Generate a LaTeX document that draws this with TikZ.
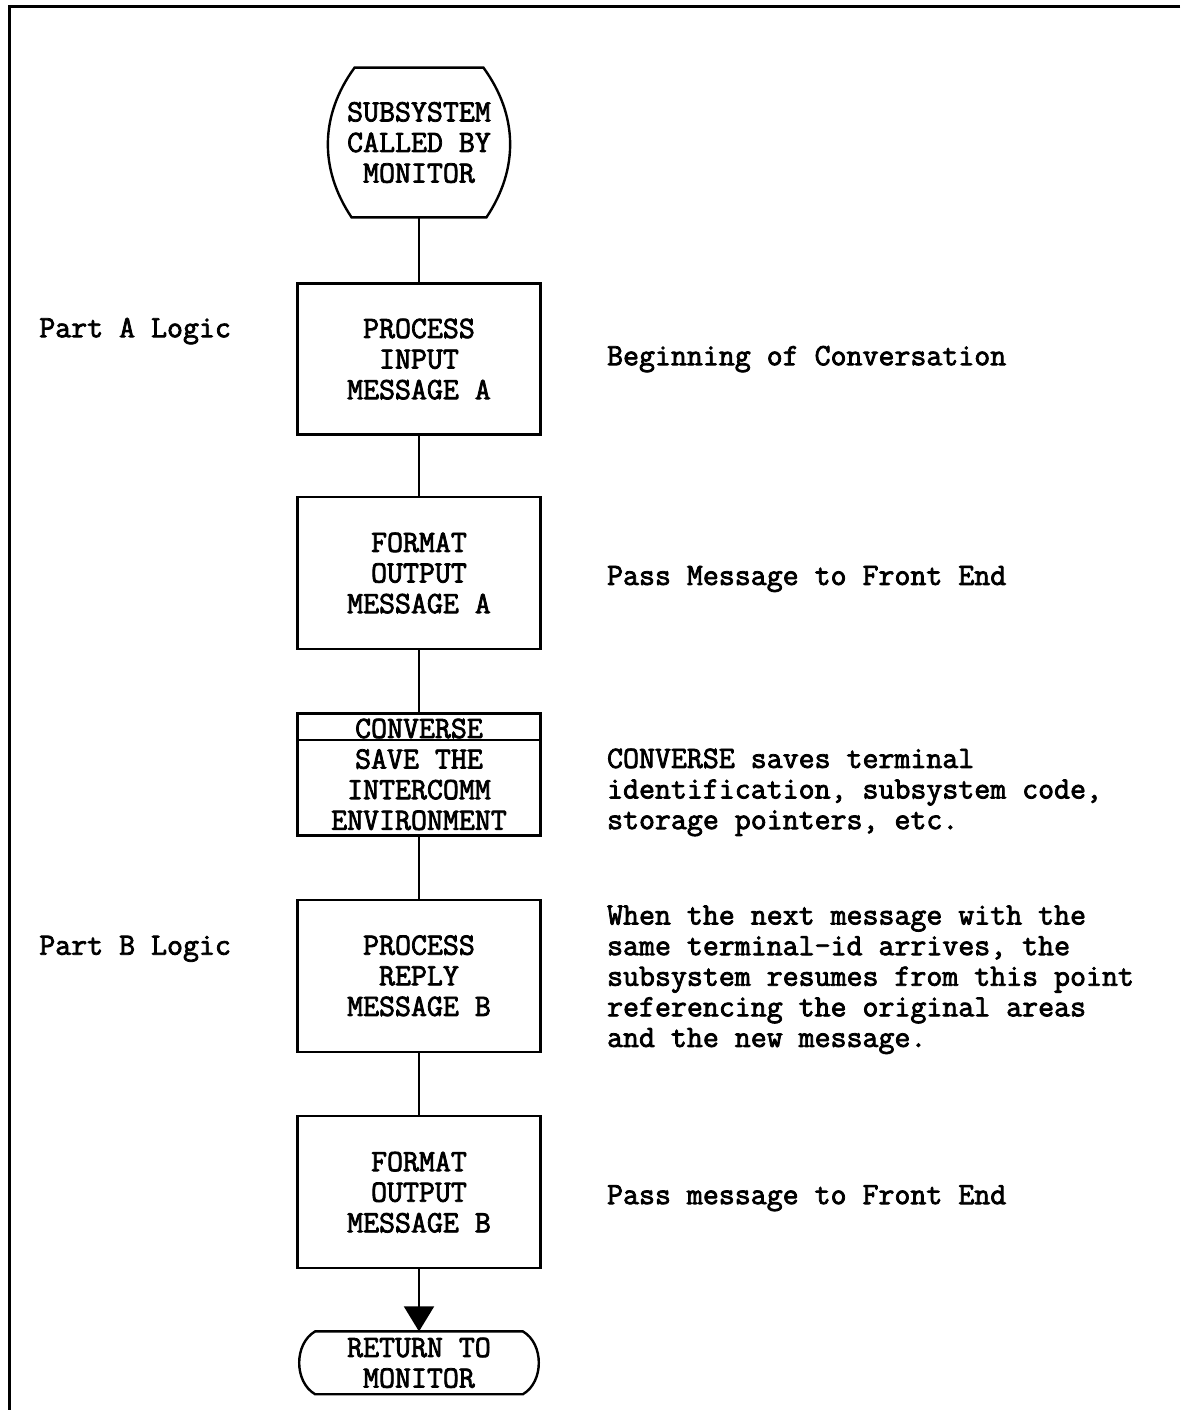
\documentclass[tikz,border=0pt]{standalone}
\usepackage{fontspec}
\setmonofont{Latin Modern Mono}[FakeBold=2.5]
\usetikzlibrary{positioning,arrows.meta}

\begin{document}
\begin{tikzpicture}[
font=\ttfamily\fontsize{15.5}{15.3}\selectfont,
box/.style={rectangle, draw=black, line width=1.2pt, minimum width=121.5pt, minimum height=76pt, align=center, inner sep=0pt},
term/.style={align=center, inner sep=0pt},
outline/.style={draw=black, line width=1.2pt},
note/.style={align=left, inner sep=0pt},
link/.style={draw=black, line width=0.9pt}
]
\useasboundingbox (0,0) rectangle (590pt,-705pt);
%Frame
\draw[line width=1.5pt] (590pt,-3pt) -- (4.5pt,-3pt) -- (4.5pt,-705pt);
%Nodes
\node[term, minimum width=89pt, minimum height=74.5pt] (start) at (209.5pt,-71.25pt) {SUBSYSTEM\\CALLED BY\\MONITOR};
\node[box, minimum height=75.5pt] (b1)   [below=32.5pt of start]  {PROCESS\\INPUT\\MESSAGE A};
\node[box]                        (b2)   [below=30pt of b1]       {FORMAT\\OUTPUT\\MESSAGE A};
\node[box, minimum height=61pt]   (conv) [below=31pt of b2]       {CONVERSE\\SAVE THE\\INTERCOMM\\ENVIRONMENT};
\node[box]                        (b3)   [below=31pt of conv]     {PROCESS\\REPLY\\MESSAGE B};
\node[box]                        (b4)   [below=31pt of b3]       {FORMAT\\OUTPUT\\MESSAGE B};
\node[term, minimum width=121.5pt, minimum height=31pt] (stop) [below=31pt of b4] {RETURN TO\\MONITOR};
%Labels
\node[note] (partA) [left=32.5pt of b1, yshift=14pt]  {Part A Logic};
\node[note] (partB) [left=32.5pt of b3, yshift=13.5pt] {Part B Logic};
\node[note] (n1) [right=32.5pt of b1]              {Beginning of Conversation};
\node[note] (n2) [right=32.5pt of b2, yshift=-3pt] {Pass Message to Front End};
\node[note] (n3) [right=32.5pt of conv, yshift=-9pt] {CONVERSE saves terminal\\identification, subsystem code,\\storage pointers, etc.};
\node[note] (n4) [right=32.5pt of b3, yshift=-2pt] {When the next message with the\\same terminal-id arrives, the\\subsystem resumes from this point\\referencing the original areas\\and the new message.};
\node[note] (n5) [right=32.5pt of b4, yshift=-3pt] {Pass message to Front End};
%Outlines
\draw[outline] ([xshift=12.5pt]start.north west) -- ([xshift=-12.5pt]start.north east)
  to[bend left=35] ([xshift=-11pt]start.south east) -- ([xshift=11pt]start.south west)
  to[bend left=35] ([xshift=12.5pt]start.north west) -- cycle;
\draw[outline] ([xshift=9pt]stop.north west) -- ([xshift=-9pt]stop.north east)
  to[bend left=60] ([xshift=-9pt]stop.south east) -- ([xshift=9pt]stop.south west)
  to[bend left=60] ([xshift=9pt]stop.north west) -- cycle;
\draw[line width=1pt] ([yshift=-14pt]conv.north west) -- ([yshift=-14pt]conv.north east);
%Lines
\draw[link] (start) -- (b1);
\draw[link] (b1) -- (b2);
\draw[link] (b2) -- (conv);
\draw[link] (conv) -- (b3);
\draw[link] (b3) -- (b4);
\draw[link, -{Triangle[width=15pt,length=12.5pt]}] (b4) -- (stop);
\end{tikzpicture}
\end{document}
